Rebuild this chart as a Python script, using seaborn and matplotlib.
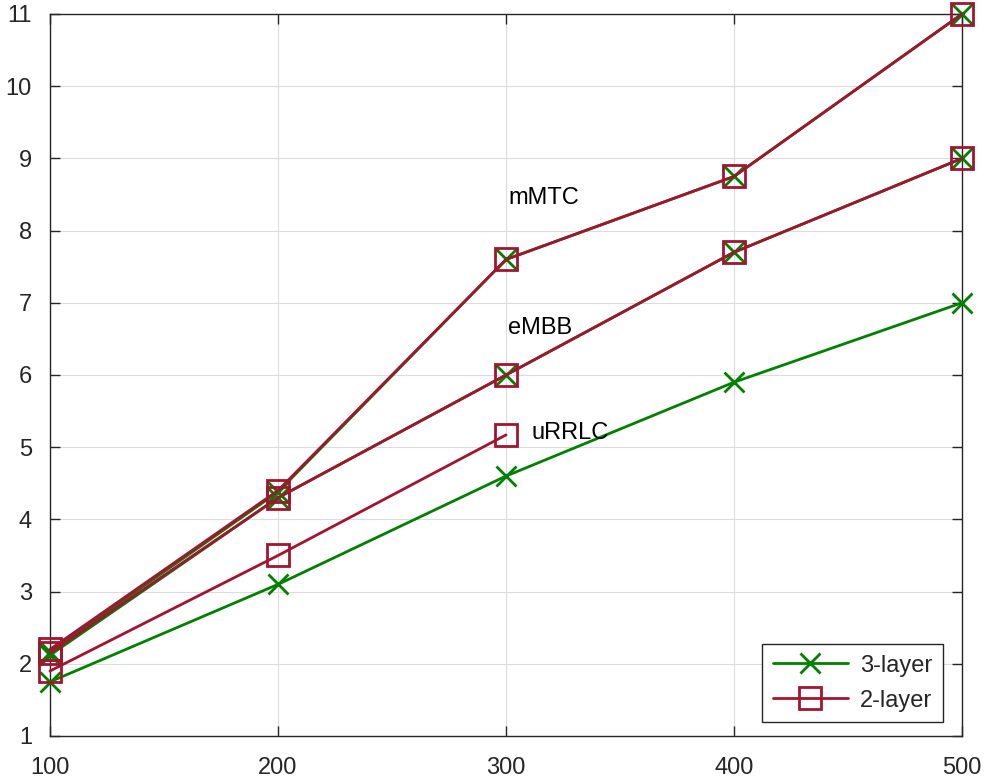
import matplotlib
matplotlib.use("Agg")
import matplotlib.pyplot as plt
import seaborn as sns
import pandas as pd

# data
x_vals = [100, 200, 300, 400, 500]
x_urllc_2 = [100, 200, 300]

three_mmtc = [2.17, 4.38, 7.6, 8.75, 11.0]
three_embb = [2.12, 4.3, 6.0, 7.7, 9.0]
three_urllc = [1.75, 3.1, 4.6, 5.9, 7.0]

two_mmtc = [2.2, 4.4, 7.6, 8.75, 11.0]
two_embb = [2.15, 4.3, 6.0, 7.7, 9.0]
two_urllc = [1.9, 3.5, 5.17]

labels = ["mMTC", "eMBB", "uRRLC"]
label_pos = [(301, 8.45), (301, 6.65), (311, 5.2)]

sns.set_theme(style="white")
plt.rcParams["font.family"] = ["Liberation Sans", "DejaVu Sans"]

green = "#008000"
red = "#A2142F"
axcol = "#262626"

fig = plt.figure(figsize=(9.89, 7.83), dpi=100)
ax = fig.add_axes([50 / 989, 1 - 736 / 783, 912 / 989, 722 / 783])

three_series = [three_mmtc, three_embb, three_urllc]
for i, ys in enumerate(three_series):
    sns.lineplot(x=x_vals, y=ys, ax=ax, color=green, linewidth=2,
                 marker="x", markersize=14, markeredgewidth=2,
                 markeredgecolor=green, label="3-layer" if i == 0 else None,
                 zorder=3, clip_on=False)

two_series = [(x_vals, two_mmtc), (x_vals, two_embb), (x_urllc_2, two_urllc)]
for i, (xs, ys) in enumerate(two_series):
    sns.lineplot(x=xs, y=ys, ax=ax, color=red, linewidth=2,
                 marker="s", markersize=16, markeredgewidth=2,
                 markeredgecolor=red, markerfacecolor="none",
                 label="2-layer" if i == 0 else None, zorder=4, clip_on=False)

for txt, (tx, ty) in zip(labels, label_pos):
    ax.text(tx, ty, txt, fontsize=17, ha="left", va="center", color="black")

ax.set_xlim(100, 500)
ax.set_ylim(1, 11)
ax.set_xticks(x_vals)
ax.set_yticks(range(1, 12))
ax.grid(True, color="#dcdcdc", linewidth=0.8)
ax.set_axisbelow(True)
ax.tick_params(direction="in", length=7, width=1, colors=axcol,
               labelsize=17, labelcolor=axcol, top=True, right=True,
               left=True, bottom=True)
ax.tick_params(axis="x", pad=15)
ax.tick_params(axis="y", pad=13)
for sp in ax.spines.values():
    sp.set_visible(True)
    sp.set_color(axcol)
    sp.set_linewidth(1)
ax.set_xlabel("")
ax.set_ylabel("")

leg = ax.legend(loc="lower right", fontsize=17, frameon=True, fancybox=False,
                edgecolor=axcol, framealpha=1, handlelength=3.2,
                borderpad=0.45, labelspacing=0.55, handletextpad=0.5,
                borderaxespad=0, bbox_to_anchor=(0.979, 0.019))
leg.get_frame().set_linewidth(1)

fig.savefig("out.png", dpi=100, facecolor="white")
